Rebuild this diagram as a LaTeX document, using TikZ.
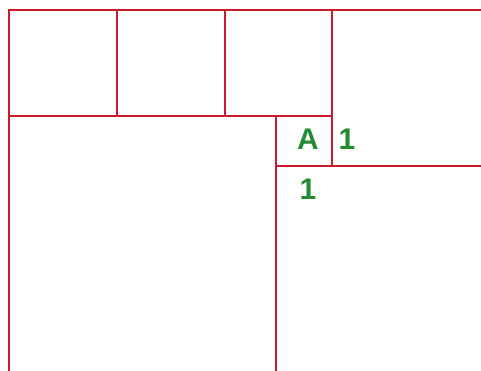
\documentclass[tikz,border=0pt]{standalone}
\usepackage{fontspec}
\setmainfont{Liberation Sans}
\usetikzlibrary{positioning}

\definecolor{tilered}{RGB}{205,25,45}
\definecolor{labelgreen}{RGB}{35,140,50}

\tikzset{
  tile/.style={draw=tilered, line width=1.1pt},
  lbl/.style={text=labelgreen, font=\fontsize{17}{20}\selectfont\bfseries, inner sep=0pt}
}

\begin{document}
\begin{tikzpicture}[x=0.02cm, y=-0.02cm]

\def\width{481}
\def\height{371}
\def\xa{9}
\def\xb{117}
\def\xc{225}
\def\xd{276}
\def\xe{332}
\def\ya{10}
\def\yb{116}
\def\yc{166}

\path [use as bounding box] (0,0) rectangle (\width,\height);

% TOP ROW
\draw [tile] (\xa,\ya) rectangle (\xb,\yb);
\draw [tile] (\xb,\ya) rectangle (\xc,\yb);
\draw [tile] (\xc,\ya) rectangle (\xe,\yb);

% BIG TILES (cut by the page edge)
\draw [tile] (\xe,\ya) rectangle (\width+20,\yc);
\draw [tile] (\xa,\yb) rectangle (\xd,\height+20);
\draw [tile] (\xd,\yc) rectangle (\width+20,\height+20);

% SMALL TILE
\draw [tile] (\xd,\yb) rectangle (\xe,\yc);

% LABELS
\node [lbl] (a) at (308,139) {A};
\node [lbl, right=0.78cm of a.center, anchor=center] (one right) {1};
\node [lbl, below=1cm of a.center, anchor=center] (one below) {1};

\end{tikzpicture}
\end{document}
